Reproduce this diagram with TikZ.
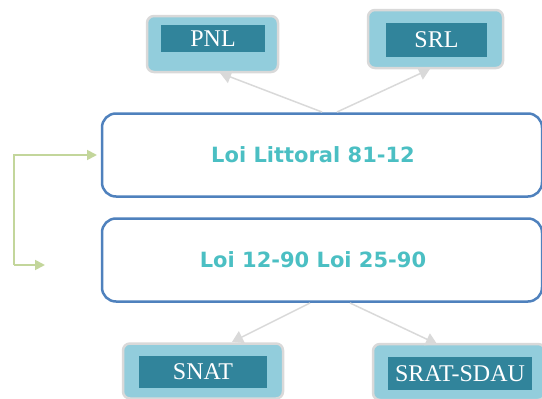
\documentclass[tikz,border=0pt]{standalone}
\usepackage{fontspec}
\setmainfont{Liberation Serif}
\newfontfamily\lawfont{DejaVu Sans}
\usetikzlibrary{arrows.meta}

\definecolor{lightteal}{HTML}{92CDDC}
\definecolor{darkteal}{HTML}{31849B}
\definecolor{lawblue}{HTML}{4F81BD}
\definecolor{lawtext}{HTML}{4BBFC3}
\definecolor{shadegray}{HTML}{D9D9D9}
\definecolor{loopgreen}{HTML}{C3D69B}

\tikzset{
  outerbox/.style={draw=shadegray, line width=2.5pt, fill=lightteal, rounded corners=7pt, inner sep=0pt},
  innerbox/.style={fill=darkteal, text=white, font=\fontsize{24}{26}\selectfont, inner sep=0pt},
  lawbox/.style={draw=lawblue, line width=2.5pt, rounded corners=14pt, minimum width=440pt, minimum height=83pt,
    text=lawtext, font=\lawfont\bfseries\fontsize{21}{24}\selectfont},
  grayarrow/.style={draw=shadegray, line width=1.5pt, -{Triangle[width=13pt,length=11pt]}},
  greenarrow/.style={draw=loopgreen, line width=1.8pt, -{Triangle[width=10pt,length=10pt]}}
}

\begin{document}
\begin{tikzpicture}[x=1pt,y=-1pt]
  \useasboundingbox (0,0) rectangle (542,399);

  % law boxes (text sits a little left of centre)
  \node[lawbox] (littoral) at (322,155) {\hspace*{-18pt}Loi Littoral 81-12};
  \node[lawbox] (loi90) at (322,260) {\hspace*{-18pt}Loi 12-90 Loi 25-90};

  % instruments
  \node[outerbox, minimum width=131pt, minimum height=56pt] (pnlout) at (212.5,44) {};
  \node[innerbox, minimum width=104pt, minimum height=27pt] (pnl) at (213,38.5) {PNL};
  \node[outerbox, minimum width=135pt, minimum height=58pt] (srlout) at (435.5,39) {};
  \node[innerbox, minimum width=101pt, minimum height=34pt] (srl) at (436.5,40) {SRL};
  \node[outerbox, minimum width=160pt, minimum height=55pt] (snatout) at (203,371) {};
  \node[innerbox, minimum width=128pt, minimum height=32pt] (snat) at (203,372) {SNAT};
  \node[outerbox, minimum width=172pt, minimum height=56pt] (sratout) at (459,372) {};
  \node[innerbox, minimum width=144pt, minimum height=33pt] (srat) at (460,373.5) {SRAT-SDAU};

  % connectors
  \coordinate (up1) at (322,112);
  \coordinate (up2) at (337,112);
  \coordinate (dn1) at (310,303);
  \coordinate (dn2) at (350,303);
  \coordinate (tipA) at (220,73);
  \coordinate (tipB) at (430,69);
  \coordinate (tipC) at (232,342);
  \coordinate (tipD) at (437,344);
  \draw[grayarrow] (up1) -- (tipA);
  \draw[grayarrow] (up2) -- (tipB);
  \draw[grayarrow] (dn1) -- (tipC);
  \draw[grayarrow] (dn2) -- (tipD);

  % feedback loop
  \coordinate (loopa) at (97,155);
  \coordinate (loopb) at (45,265);
  \draw[greenarrow] (loopb -| 14,0) -- (14,155) -- (loopa);
  \draw[greenarrow] (14,265) -- (loopb);
\end{tikzpicture}
\end{document}
